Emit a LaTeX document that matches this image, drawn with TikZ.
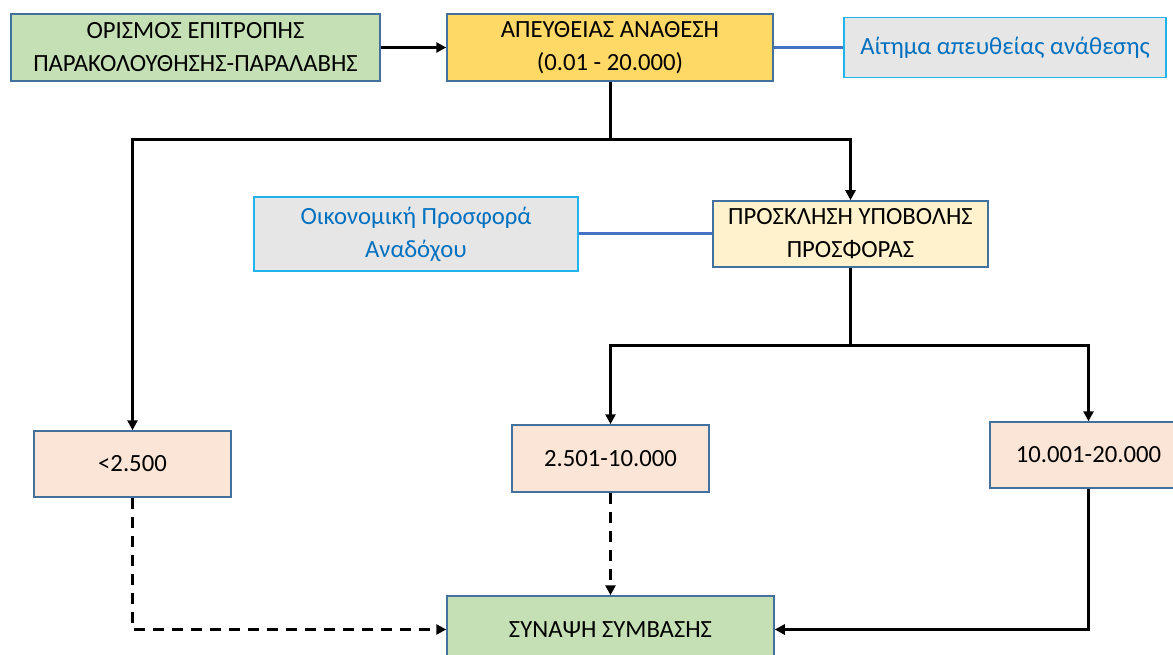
\documentclass[tikz,border=0pt]{standalone}
\usepackage{fontspec}
\setmainfont{Carlito}
\usetikzlibrary{arrows.meta}
\definecolor{boxedge}{HTML}{41719C}
\definecolor{greenfill}{HTML}{C5E0B4}
\definecolor{goldfill}{HTML}{FFD966}
\definecolor{creamfill}{HTML}{FFF2CC}
\definecolor{peachfill}{HTML}{FBE5D6}
\definecolor{notefill}{HTML}{E7E6E6}
\definecolor{noteedge}{HTML}{1FB4EC}
\definecolor{notetext}{HTML}{0070C0}
\definecolor{linkblue}{HTML}{4472C4}
\tikzset{
  box/.style={draw=boxedge, line width=1.5pt, align=center, inner sep=0pt,
    font=\fontsize{24.7}{33}\selectfont},
  note/.style={draw=noteedge, fill=notefill, line width=1.8pt, align=center,
    inner sep=0pt, text=notetext, font=\fontsize{24.7}{33}\selectfont},
  flow/.style={line width=3pt, black, -{Triangle[length=10pt,width=10pt]}},
  plain/.style={line width=3pt, black},
  dashflow/.style={flow, dash pattern=on 11pt off 8pt},
  link/.style={line width=3pt, linkblue}
}
\begin{document}
\begin{tikzpicture}[x=1pt, y=-1pt]
\useasboundingbox (0,0) rectangle (1173,655);

% top row
\node[box, fill=greenfill, minimum width=369pt, minimum height=67pt]
  (committee) at (195.5,47.5) {ΟΡΙΣΜΟΣ ΕΠΙΤΡΟΠΗΣ\\ΠΑΡΑΚΟΛΟΥΘΗΣΗΣ-ΠΑΡΑΛΑΒΗΣ};
\node[box, fill=goldfill, minimum width=326pt, minimum height=67pt]
  (direct) at (610,47.5) {ΑΠΕΥΘΕΙΑΣ ΑΝΑΘΕΣΗ\\(0.01 - 20.000)};
\node[note, minimum width=322pt, minimum height=60pt]
  (request) at (1005,47.5) {Αίτημα απευθείας ανάθεσης};

% middle row
\node[note, minimum width=324pt, minimum height=74pt]
  (offer) at (416,234) {Οικονομική Προσφορά\\Αναδόχου};
\node[box, fill=creamfill, minimum width=275pt, minimum height=66pt]
  (invite) at (850.5,234) {ΠΡΟΣΚΛΗΣΗ ΥΠΟΒΟΛΗΣ\\ΠΡΟΣΦΟΡΑΣ};

% amount ranges
\node[box, fill=peachfill, minimum width=197pt, minimum height=66pt]
  (low) at (132.5,464) {<2.500};
\node[box, fill=peachfill, minimum width=197pt, minimum height=67pt]
  (mid) at (610.5,458.5) {2.501-10.000};
\node[box, fill=peachfill, minimum width=197pt, minimum height=66pt]
  (high) at (1088.5,455) {10.001-20.000};

% contract
\node[box, fill=greenfill, minimum width=327pt, minimum height=67pt]
  (contract) at (610.5,629.5) {ΣΥΝΑΨΗ ΣΥΜΒΑΣΗΣ};

% junction points
\coordinate (split1) at (610,140);
\coordinate (split2) at (850.5,345);

% connectors
\draw[flow] (committee) -- (direct);
\draw[link] (direct) -- (request);
\draw[plain] (direct.south) -- (split1);
\draw[flow] (split1) -| (low.north);
\draw[flow] (split1) -| (invite.north);
\draw[link] (invite) -- (offer);
\draw[plain] (invite.south) -- (split2);
\draw[flow] (split2) -| (mid.north);
\draw[flow] (split2) -| (high.north);
\draw[dashflow] (low.south) |- (contract.west);
\draw[dashflow] (mid.south) -- (contract.north);
\draw[flow] (high.south) |- (contract.east);
\end{tikzpicture}
\end{document}
